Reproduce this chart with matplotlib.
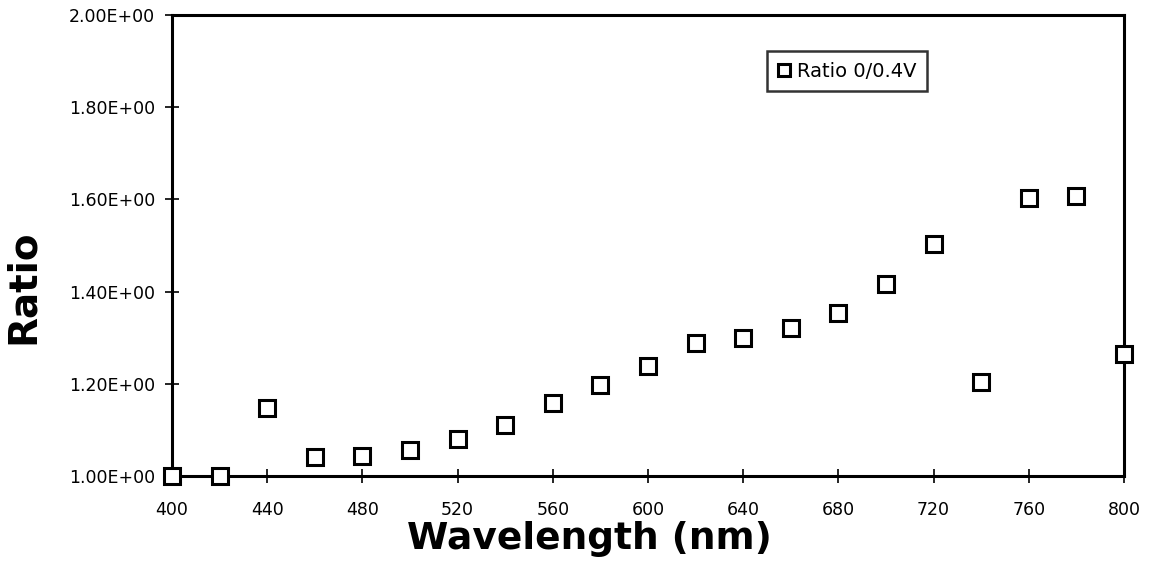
import numpy as np
import matplotlib.pyplot as plt

plt.rcParams['font.family'] = ['DejaVu Sans']

wavelength = [400, 420, 440, 460, 480, 500, 520, 540, 560, 580,
              600, 620, 640, 660, 680, 700, 720, 740, 760, 780, 800]
ratio = [1.000, 1.000, 1.148, 1.041, 1.043, 1.056, 1.080, 1.111, 1.158, 1.197,
         1.239, 1.289, 1.299, 1.321, 1.354, 1.416, 1.503, 1.204, 1.603, 1.607, 1.265]

xticks = np.arange(400, 801, 40)
yticks = np.arange(1.0, 2.01, 0.2)

fig = plt.figure(figsize=(11.52, 5.79), dpi=100)
ax = fig.add_axes([0.1493, 0.178, 0.8264, 0.796])

ax.plot(wavelength, ratio, linestyle='none', marker='s', markersize=11,
        markerfacecolor='white', markeredgecolor='black', markeredgewidth=2.2,
        label='Ratio 0/0.4V', clip_on=False, zorder=5)

ax.set_xlim(400, 800)
ax.set_ylim(1.0, 2.0)
ax.set_xticks(xticks)
ax.set_yticks(yticks)
ax.set_yticklabels(['%.2E' % v for v in yticks])
ax.tick_params(direction='inout', length=10, width=1.2, labelsize=12.5)
ax.tick_params(axis='x', pad=13)
ax.tick_params(axis='y', pad=7)

for s in ax.spines.values():
    s.set_linewidth(2.2)

ax.set_xlabel('Wavelength (nm)', fontsize=27, fontweight='bold')
ax.set_ylabel('Ratio', fontsize=28, fontweight='bold')
ax.xaxis.set_label_coords(0.439, -0.098)
ax.yaxis.set_label_coords(-0.137, 0.41)

leg = ax.legend(loc='upper left', bbox_to_anchor=(0.625, 0.922), fontsize=14,
                frameon=True, fancybox=False, edgecolor='black',
                handlelength=0.6, handletextpad=0.4, borderpad=0.55,
                borderaxespad=0, markerscale=0.8)
leg.get_frame().set_linewidth(1.8)

fig.savefig('out.png', dpi=100)
